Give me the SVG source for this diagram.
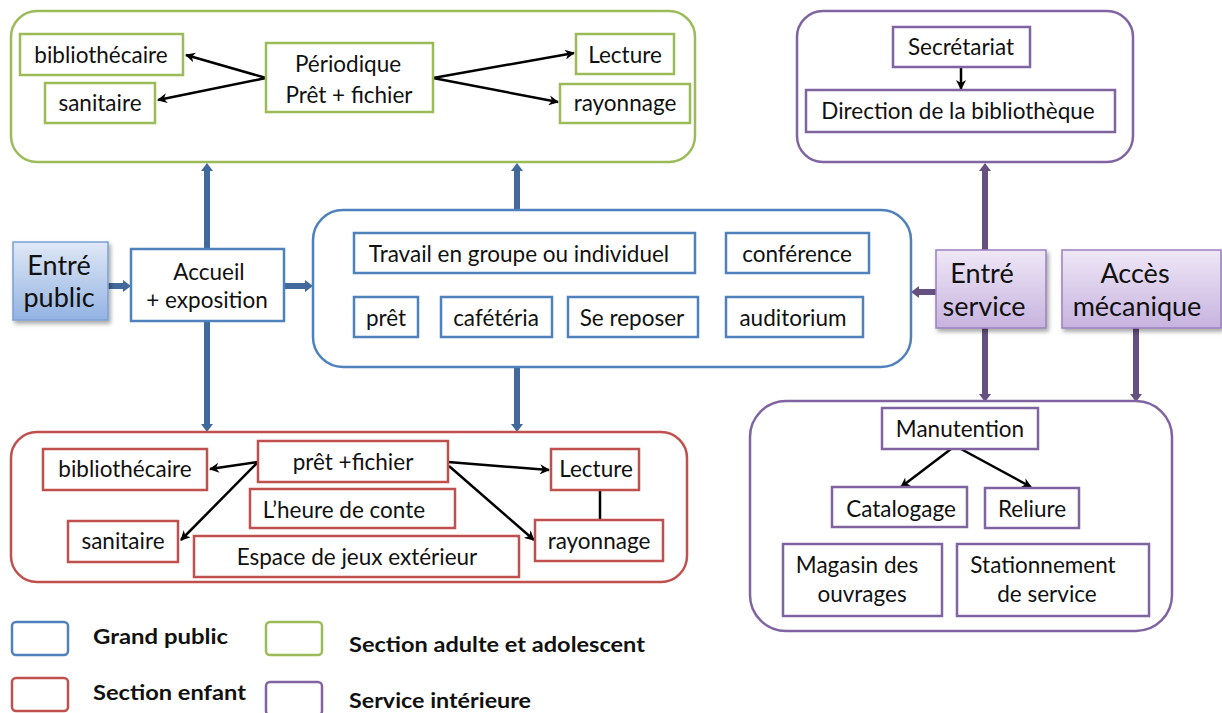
<svg xmlns="http://www.w3.org/2000/svg" width="1222" height="713" viewBox="0 0 1222 713">
<style>
text{font-family:Lato,"Liberation Sans",sans-serif;font-size:22.5px;fill:#111;text-anchor:middle}
.big{font-size:27px}
.leg{font-weight:bold;font-size:21px;text-anchor:start}
.cg{fill:none;stroke:#9bbb59;stroke-width:2.5}
.cb{fill:none;stroke:#4f81bd;stroke-width:2.5}
.cr{fill:none;stroke:#c0504d;stroke-width:2.5}
.cp{fill:none;stroke:#8064a2;stroke-width:2.5}
.bg{fill:#fff;stroke:#9bbb59;stroke-width:2.5}
.bb{fill:#fff;stroke:#4f81bd;stroke-width:2.5}
.br{fill:#fff;stroke:#c0504d;stroke-width:2.5}
.bp{fill:#fff;stroke:#8064a2;stroke-width:2.5}
.blk{stroke:#000;stroke-width:2.5;fill:none;marker-end:url(#ah)}
.tb{stroke:#41699c;stroke-width:6;fill:none}
.tp{stroke:#65507f;stroke-width:6;fill:none}
</style>
<defs>
<marker id="ah" viewBox="0 0 10 10" refX="9" refY="5" markerWidth="10" markerHeight="10" markerUnits="userSpaceOnUse" orient="auto"><path d="M0,0 L10,5 L0,10 L3,5 z" fill="#000"/></marker>
<marker id="hb" viewBox="0 0 8 12" refX="0" refY="6" markerWidth="8" markerHeight="12" markerUnits="userSpaceOnUse" orient="auto-start-reverse"><path d="M0,0 L8,6 L0,12 z" fill="#41699c"/></marker>
<marker id="hp" viewBox="0 0 8 12" refX="0" refY="6" markerWidth="8" markerHeight="12" markerUnits="userSpaceOnUse" orient="auto-start-reverse"><path d="M0,0 L8,6 L0,12 z" fill="#65507f"/></marker>
<linearGradient id="gb" x1="0" y1="0" x2="0" y2="1"><stop offset="0" stop-color="#dfe8f6"/><stop offset="1" stop-color="#93b3e2"/></linearGradient>
<linearGradient id="gp" x1="0" y1="0" x2="0" y2="1"><stop offset="0" stop-color="#efe7f6"/><stop offset="1" stop-color="#c7b3df"/></linearGradient>
<filter id="sh" x="-20%" y="-20%" width="150%" height="150%"><feDropShadow dx="2" dy="3" stdDeviation="2" flood-color="#000" flood-opacity="0.35"/></filter>
</defs>

<g id="connectors">
<line class="tb" x1="207" y1="248" x2="207" y2="171" marker-end="url(#hb)"/>
<line class="tb" x1="207" y1="321" x2="207" y2="424" marker-end="url(#hb)"/>
<line class="tb" x1="517" y1="210" x2="517" y2="171" marker-end="url(#hb)"/>
<line class="tb" x1="517" y1="367" x2="517" y2="424" marker-end="url(#hb)"/>
<line class="tb" x1="108" y1="286" x2="123" y2="286" marker-end="url(#hb)"/>
<line class="tb" x1="284" y1="286" x2="305" y2="286" marker-end="url(#hb)"/>
<line class="tp" x1="936" y1="292" x2="919" y2="292" marker-end="url(#hp)"/>
<line class="tp" x1="985" y1="250" x2="985" y2="171" marker-end="url(#hp)"/>
<line class="tp" x1="985" y1="328" x2="985" y2="394" marker-end="url(#hp)"/>
<line class="tp" x1="1136" y1="328" x2="1136" y2="394" marker-end="url(#hp)"/>
<line class="blk" x1="266" y1="78" x2="186" y2="55"/>
<line class="blk" x1="266" y1="78" x2="158" y2="100"/>
<line class="blk" x1="433" y1="78" x2="574" y2="53"/>
<line class="blk" x1="433" y1="78" x2="558" y2="102"/>
<line class="blk" x1="961" y1="67" x2="961" y2="89"/>
<line class="blk" x1="258" y1="462" x2="210" y2="469"/>
<line class="blk" x1="258" y1="462" x2="181" y2="540"/>
<line class="blk" x1="448" y1="462" x2="549" y2="470"/>
<line class="blk" x1="449" y1="466" x2="534" y2="540"/>
<line x1="600" y1="490" x2="600" y2="520" stroke="#000" stroke-width="2.5"/>
<line class="blk" x1="951" y1="449" x2="901" y2="487"/>
<line class="blk" x1="961" y1="449" x2="1031" y2="487"/>
</g>

<g id="section-adulte">
<rect class="cg" x="11" y="11" width="684" height="151" rx="26"/>
</g>
<g id="g-bibliothecaire"><rect class="bg" x="20" y="34" width="163" height="41"/><text x="101" y="63">bibliothécaire</text></g>
<g id="g-sanitaire"><rect class="bg" x="45" y="83" width="110" height="40"/><text x="100" y="111">sanitaire</text></g>
<g id="g-periodique"><rect class="bg" x="266" y="43" width="167" height="69"/><text x="348" y="72">Périodique</text><text x="349" y="103">Prêt + fichier</text></g>
<g id="g-lecture"><rect class="bg" x="576" y="34" width="98" height="40"/><text x="625" y="63">Lecture</text></g>
<g id="g-rayonnage"><rect class="bg" x="560" y="84" width="130" height="39"/><text x="625" y="111">rayonnage</text></g>

<g id="service-haut"><rect class="cp" x="797" y="11" width="336" height="151" rx="26"/></g>
<g id="p-secretariat"><rect class="bp" x="893" y="27" width="137" height="40"/><text x="961" y="55">Secrétariat</text></g>
<g id="p-direction"><rect class="bp" x="806" y="90" width="309" height="42"/><text x="958" y="119">Direction de la bibliothèque</text></g>

<g id="entre-public"><rect x="13" y="242" width="95" height="78" fill="url(#gb)" stroke="#7d9fd2" stroke-width="1.5" filter="url(#sh)"/><text class="big" x="59" y="275">Entré</text><text class="big" x="59" y="307">public</text></g>
<g id="accueil"><rect class="bb" x="131" y="249" width="153" height="72"/><text x="209" y="280">Accueil</text><text x="207" y="308">+ exposition</text></g>

<g id="grand-public"><rect class="cb" x="313" y="210" width="598" height="157" rx="30"/></g>
<g id="b-travail"><rect class="bb" x="354" y="233" width="341" height="40"/><text x="519" y="262">Travail en groupe ou individuel</text></g>
<g id="b-conference"><rect class="bb" x="726" y="233" width="143" height="40"/><text x="797" y="262">conférence</text></g>
<g id="b-pret"><rect class="bb" x="354" y="297" width="64" height="40"/><text x="386" y="326">prêt</text></g>
<g id="b-cafeteria"><rect class="bb" x="441" y="297" width="111" height="40"/><text x="496" y="326">cafétéria</text></g>
<g id="b-sereposer"><rect class="bb" x="568" y="297" width="130" height="40"/><text x="632" y="326">Se reposer</text></g>
<g id="b-auditorium"><rect class="bb" x="726" y="297" width="137" height="40"/><text x="793" y="326">auditorium</text></g>

<g id="entre-service"><rect x="936" y="250" width="110" height="78" fill="url(#gp)" stroke="#9a80c0" stroke-width="1.5" filter="url(#sh)"/><text class="big" x="982" y="283">Entré</text><text class="big" x="984" y="316">service</text></g>
<g id="acces-mecanique"><rect x="1062" y="250" width="159" height="78" fill="url(#gp)" stroke="#9a80c0" stroke-width="1.5" filter="url(#sh)"/><text class="big" x="1135" y="283">Accès</text><text class="big" x="1137" y="316">mécanique</text></g>

<g id="section-enfant"><rect class="cr" x="11" y="432" width="676" height="150" rx="26"/></g>
<g id="r-bibliothecaire"><rect class="br" x="43" y="449" width="164" height="41"/><text x="125" y="477">bibliothécaire</text></g>
<g id="r-pret"><rect class="br" x="258" y="441" width="190" height="41"/><text x="353" y="470">prêt +fichier</text></g>
<g id="r-lecture"><rect class="br" x="551" y="449" width="88" height="41"/><text x="596" y="477">Lecture</text></g>
<g id="r-heure"><rect class="br" x="250" y="489" width="205" height="39"/><text x="344" y="518">L’heure de conte</text></g>
<g id="r-sanitaire"><rect class="br" x="68" y="521" width="110" height="41"/><text x="123" y="549">sanitaire</text></g>
<g id="r-espace"><rect class="br" x="194" y="536" width="325" height="41"/><text x="357" y="565">Espace de jeux extérieur</text></g>
<g id="r-rayonnage"><rect class="br" x="535" y="520" width="128" height="41"/><text x="599" y="549">rayonnage</text></g>

<g id="service-bas"><rect class="cp" x="750" y="401" width="422" height="230" rx="36"/></g>
<g id="p-manutention"><rect class="bp" x="882" y="408" width="156" height="41"/><text x="960" y="437">Manutention</text></g>
<g id="p-catalogage"><rect class="bp" x="832" y="487" width="135" height="40"/><text x="901" y="517">Catalogage</text></g>
<g id="p-reliure"><rect class="bp" x="985" y="488" width="94" height="40"/><text x="1032" y="517">Reliure</text></g>
<g id="p-magasin"><rect class="bp" x="783" y="544" width="159" height="72"/><text x="857" y="573">Magasin des</text><text x="862" y="602">ouvrages</text></g>
<g id="p-stationnement"><rect class="bp" x="957" y="544" width="192" height="72"/><text x="1043" y="573">Stationnement</text><text x="1047" y="602">de service</text></g>

<g id="legend">
<rect x="12" y="622" width="56" height="33" rx="4" fill="none" stroke="#4f81bd" stroke-width="2.5"/>
<text class="leg" x="93" y="644" textLength="135" lengthAdjust="spacingAndGlyphs">Grand public</text>
<rect x="12" y="678" width="56" height="33" rx="4" fill="none" stroke="#c0504d" stroke-width="2.5"/>
<text class="leg" x="93" y="700" textLength="153" lengthAdjust="spacingAndGlyphs">Section enfant</text>
<rect x="266" y="622" width="56" height="33" rx="4" fill="none" stroke="#9bbb59" stroke-width="2.5"/>
<text class="leg" x="349" y="652" textLength="296" lengthAdjust="spacingAndGlyphs">Section adulte et adolescent</text>
<rect x="266" y="682" width="56" height="33" rx="4" fill="none" stroke="#8064a2" stroke-width="2.5"/>
<text class="leg" x="349" y="708" textLength="182" lengthAdjust="spacingAndGlyphs">Service intérieure</text>
</g>
</svg>
